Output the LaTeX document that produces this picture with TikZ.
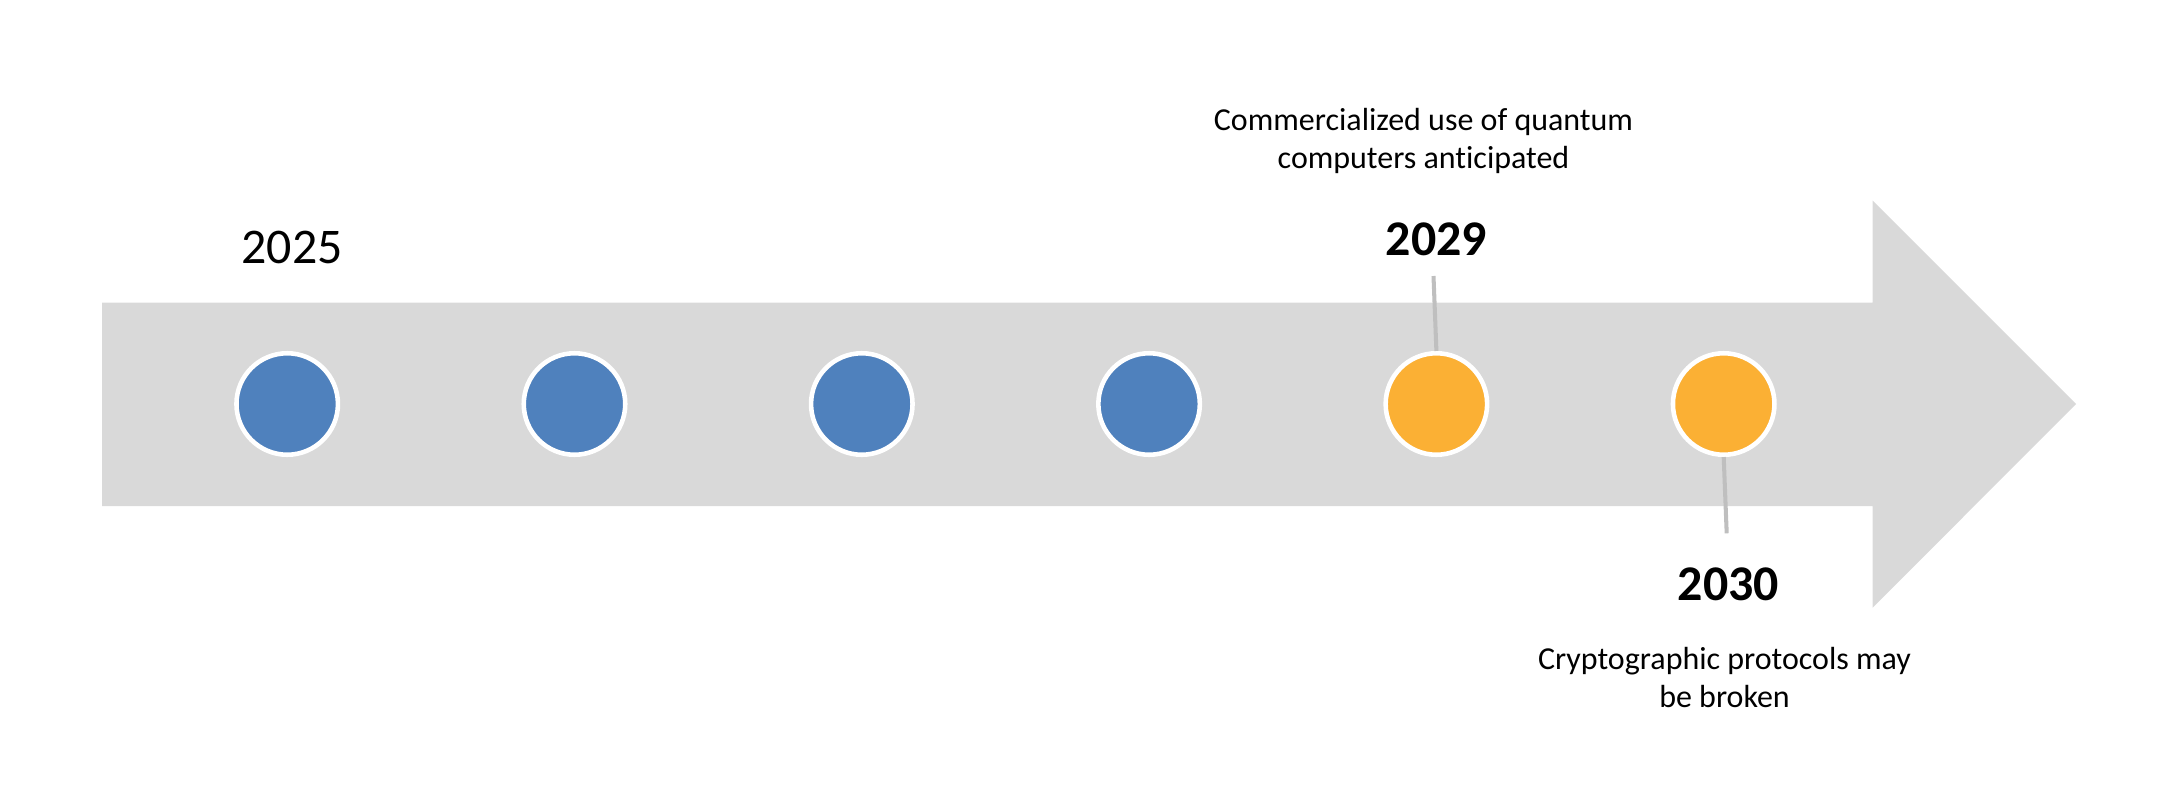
\documentclass[tikz,border=0pt]{standalone}
\usepackage{fontspec}
\setmainfont[Ligatures=NoCommon]{Carlito}
\usepackage{tikz}
\usetikzlibrary{positioning,calc}
\definecolor{barGray}{HTML}{D9D9D9}
\definecolor{dotBlue}{HTML}{4F81BD}
\definecolor{dotOrange}{HTML}{FBB034}
\definecolor{pinGray}{HTML}{BFBFBF}
\tikzset{
  dot/.style={shape=circle,draw=white,line width=1.3pt,inner sep=0pt,
    minimum size=1.015cm,font=\nullfont},
  past/.style={dot,fill=dotBlue},
  future/.style={dot,fill=dotOrange},
  year/.style={font=\fontsize{14.2}{17}\selectfont,inner sep=0pt,anchor=base},
  note/.style={font=\fontsize{9.1}{10.8}\selectfont,align=center,inner sep=0pt},
  pin/.style={draw=pinGray,line width=1.15pt}
}

\begin{document}
\begin{tikzpicture}
    \useasboundingbox (0,0) rectangle (21.7,8.07);
    % the time line
    \fill [barGray] (1.02,5.043) -- (18.727,5.043) -- (18.727,6.063)
      -- (20.76,4.03) -- (18.727,1.993) -- (18.727,3.01) -- (1.02,3.01) -- cycle;
    \node (a) [past] at (2.872,4.03) {};
    \node (b) [past] at (5.745,4.03) {};
    \node (c) [past] at (8.618,4.03) {};
    \node (d) [past] at (11.491,4.03) {};
    \node (e) [future] at (14.364,4.03) {};
    \node (f) [future] at (17.237,4.03) {};
    \coordinate (etop) at (14.335,5.31);
    \coordinate (fbot) at (17.267,2.737);
    \draw [pin] (etop) -- (e.north);
    \draw [pin] (f.south) -- (fbot);
    \node (y25) [year] at (2.92,5.437) {2025};
    \node (y29) [year,font=\fontsize{14.2}{17}\selectfont\bfseries] at (14.365,5.52) {2029};
    \node (y30) [year,font=\fontsize{14.2}{17}\selectfont\bfseries] at (17.283,2.07) {2030};
    \node (t29) [note,anchor=south] at (14.235,6.33) {Commercialized use of quantum\\computers anticipated};
    \node (t30) [note,anchor=north] at (17.245,1.6) {Cryptographic protocols may\\be broken};
  \end{tikzpicture}
\end{document}
